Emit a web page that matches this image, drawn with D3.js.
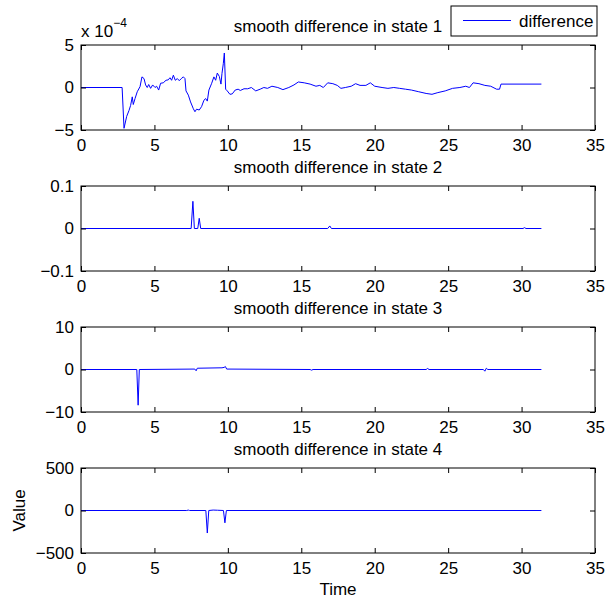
<!DOCTYPE html>
<html>
<head>
<meta charset="utf-8">
<script src="https://cdn.jsdelivr.net/npm/d3@7"></script>
<style>
    body { margin: 0; background: #fff; }
    svg text { font-family: "Liberation Sans", Arial, sans-serif; }
</style>
</head>
<body>
<div id="chart"></div>
<script>
// shared x ticks
const xTicks = [0, 5, 10, 15, 20, 25, 30, 35];

// state 1 (values in units of 1e-4)
const s1Time = [0, 2.8, 2.93, 3.11, 3.27, 3.38, 3.49, 3.56, 3.68, 3.83, 4.02, 4.15, 4.29, 4.4, 4.51, 4.61, 4.74, 4.88,
    5.04, 5.15, 5.29, 5.42, 5.6, 5.79, 5.94, 6.06, 6.17, 6.29, 6.42, 6.56, 6.69, 6.83, 6.97, 7.08, 7.15, 7.31, 7.46,
    7.65, 7.76, 7.87, 8.05, 8.21, 8.37, 8.49, 8.6, 8.71, 8.9, 9.05, 9.17, 9.28, 9.42, 9.53, 9.6, 9.69, 9.76, 9.85,
    9.96, 10.14, 10.3, 10.5, 10.7, 10.85, 11.1, 11.35, 11.6, 11.9, 12.2, 12.45, 12.7, 13.0, 13.4, 13.75, 14.15, 14.5,
    14.8, 15.2, 15.6, 16.0, 16.26, 16.5, 16.8, 17.15, 17.45, 17.7, 18.0, 18.4, 18.7, 19.0, 19.4, 19.7, 20.0, 20.5,
    20.9, 21.3, 21.7, 22.1, 22.5, 23.0, 23.5, 23.9, 24.3, 24.8, 25.3, 25.8, 26.2, 26.45, 26.7, 27.1, 27.5, 27.9,
    28.3, 28.5, 28.6, 31.35];
const s1Value = [0, 0, -4.8, -3.4, -2.7, -2.1, -1.1, -2.0, -1.3, -0.5, 0.1, 1.25, 1.05, 0.3, 0, 0.35, -0.1, 0.3,
    0, 0.15, -0.3, 0.5, 0.55, 0.85, 0.9, 1.15, 0.85, 1.45, 0.85, 1.05, 0.8, 1.05, 1.25, 1.05, -0.4, -0.9, -1.7,
    -2.5, -2.85, -2.55, -2.65, -2.25, -1.5, -1.3, -1.6, -0.3, 0.5, 1.25, 0.85, 1.7, 1.3, 0.4, 1.65, 2.8, 4.06, -0.2,
    -0.4, -0.8, -0.75, -0.3, -0.2, -0.35, -0.15, -0.15, 0, -0.4, -0.2, 0, -0.1, 0.15, 0, -0.25, 0, 0.3,
    0.65, 0.55, 0.4, 0.15, 0.25, 0, 0.55, 0.45, 0.25, -0.1, 0, 0.15, 0.45, 0.25, 0.25, 0.55, 0.15, 0,
    -0.1, 0, -0.1, -0.2, -0.3, -0.5, -0.7, -0.8, -0.6, -0.4, -0.1, 0, 0.15, 0, 0.55, 0.45, 0.25, 0.15,
    -0.2, -0.2, 0.4, 0.4];
const s1Ticks = [-5, 0, 5];

// state 2
const s2Time = [0, 7.5, 7.62, 7.72, 7.95, 8.05, 8.15, 16.8, 16.94, 17.05, 30.1, 30.2, 30.3, 31.35];
const s2Value = [0, 0, 0.064, 0, 0, 0.024, 0, 0, 0.006, 0, 0, 0.002, 0, 0];
const s2Ticks = [-0.1, 0, 0.1];

// state 3
const s3Time = [0, 3.8, 3.89, 3.97, 7.75, 7.84, 7.92, 9.6, 9.75, 9.83, 9.92, 15.6, 15.7, 15.8, 23.5, 23.6, 23.7,
    27.4, 27.5, 27.6, 27.7, 31.35];
const s3Value = [0, 0, -8.4, 0, 0.1, -0.3, 0.3, 0.4, 0.5, 0.7, 0.1, 0, -0.15, 0, 0, 0.25, 0, 0, -0.4, 0.3, 0, 0];
const s3Ticks = [-10, 0, 10];

// state 4
const s4Time = [0, 7.2, 7.3, 7.4, 8.5, 8.6, 8.7, 9.0, 9.3, 9.7, 9.8, 9.9, 31.35];
const s4Value = [0, 0, 5, 0, 0, -265, 0, 5, 3, 0, -145, 0, 0];
const s4Ticks = [-500, 0, 500];

const panelTitles = ["smooth difference in state 1", "smooth difference in state 2",
    "smooth difference in state 3", "smooth difference in state 4"];
const legendLabel = "difference";

const width = 606, height = 603;
const left = 81, right = 595, panelH = 85;
const panelTops = [45, 186, 327, 468];
const fontSize = 17;

const svg = d3.select("#chart")
    .append("svg")
    .attr("width", width)
    .attr("height", height);

const xScale = d3.scaleLinear()
    .domain([0, 35])
    .range([left, right]);

function createSubplot(i, time, values, yTicks) {
    const top = panelTops[i];
    const bottom = top + panelH;
    const yScale = d3.scaleLinear()
        .domain([yTicks[0], yTicks[yTicks.length - 1]])
        .range([bottom, top]);

    const g = svg.append("g");

    // data line
    g.append("path")
        .datum(time.map((t, k) => [t, values[k]]))
        .attr("fill", "none")
        .attr("stroke", "#0000ff")
        .attr("stroke-width", 1)
        .attr("d", d3.line()
            .x(d => xScale(d[0]))
            .y(d => yScale(d[1]))
        );

    const fmt = d3.format("");

    // bottom axis, ticks pointing in
    g.append("g")
        .attr("transform", `translate(0,${bottom})`)
        .call(d3.axisBottom(xScale).tickValues(xTicks).tickSizeInner(-5).tickSizeOuter(0).tickPadding(9).tickFormat(fmt));
    // top axis, no labels
    g.append("g")
        .attr("transform", `translate(0,${top})`)
        .call(d3.axisTop(xScale).tickValues(xTicks).tickSizeInner(-5).tickSizeOuter(0).tickFormat(""));
    // left axis
    g.append("g")
        .attr("transform", `translate(${left},0)`)
        .call(d3.axisLeft(yScale).tickValues(yTicks).tickSizeInner(-5).tickSizeOuter(0).tickPadding(7).tickFormat(fmt));
    // right axis, no labels
    g.append("g")
        .attr("transform", `translate(${right},0)`)
        .call(d3.axisRight(yScale).tickValues(yTicks).tickSizeInner(-5).tickSizeOuter(0).tickFormat(""));

    g.selectAll(".domain").remove();
    g.selectAll(".tick line").attr("stroke", "#000");
    g.selectAll(".tick text")
        .attr("fill", "#000")
        .style("font-size", fontSize + "px")
        .style("font-family", "'Liberation Sans', Arial, sans-serif");

    // box
    g.append("rect")
        .attr("x", left)
        .attr("y", top)
        .attr("width", right - left)
        .attr("height", panelH)
        .attr("fill", "none")
        .attr("stroke", "#000")
        .attr("stroke-width", 1);

    // title
    g.append("text")
        .attr("x", (left + right) / 2)
        .attr("y", top - 13)
        .attr("text-anchor", "middle")
        .style("font-size", fontSize + "px")
        .text(panelTitles[i]);
}

createSubplot(0, s1Time, s1Value, s1Ticks);
createSubplot(1, s2Time, s2Value, s2Ticks);
createSubplot(2, s3Time, s3Value, s3Ticks);
createSubplot(3, s4Time, s4Value, s4Ticks);

// exponent label for state 1
const expLabel = svg.append("text")
    .attr("x", left)
    .attr("y", 37)
    .style("font-size", fontSize + "px");
expLabel.append("tspan").text("x 10");
expLabel.append("tspan")
    .attr("dy", -10)
    .style("font-size", "12px")
    .text("\u22124");

// legend
svg.append("rect")
    .attr("x", 451)
    .attr("y", 6)
    .attr("width", 146)
    .attr("height", 30)
    .attr("fill", "#fff")
    .attr("stroke", "#000")
    .attr("stroke-width", 1);
svg.append("line")
    .attr("x1", 463)
    .attr("x2", 511)
    .attr("y1", 20.5)
    .attr("y2", 20.5)
    .attr("stroke", "#0000ff")
    .attr("stroke-width", 1);
svg.append("text")
    .attr("x", 519)
    .attr("y", 27)
    .style("font-size", fontSize + "px")
    .text(legendLabel);

// axis labels
svg.append("text")
    .attr("x", (left + right) / 2)
    .attr("y", 595)
    .attr("text-anchor", "middle")
    .style("font-size", fontSize + "px")
    .text("Time");

svg.append("text")
    .attr("transform", `translate(25,${panelTops[3] + panelH / 2}) rotate(-90)`)
    .attr("text-anchor", "middle")
    .style("font-size", fontSize + "px")
    .text("Value");
</script>
</body>
</html>
